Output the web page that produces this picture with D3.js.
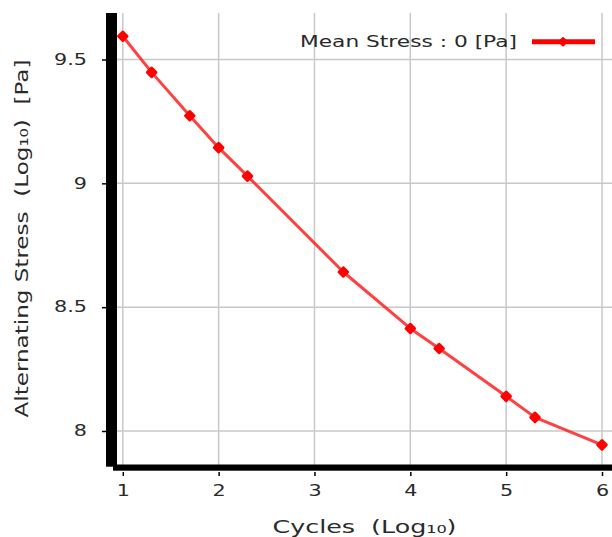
<!DOCTYPE html>
<html>
<head>
<meta charset="utf-8">
<script src="https://cdn.jsdelivr.net/npm/d3@7"></script>
<style>
  body { margin: 0; background: #fff; }
  text { font-family: "DejaVu Sans", sans-serif; fill: #2a2a2a; }
</style>
</head>
<body>
<div class="chart"></div>
<script>
var width = 612,
  height = 537;

// data (log10 cycles vs log10 alternating stress)
var cycles = [1, 1.301, 1.699, 2, 2.301, 3.301, 4, 4.301, 5, 5.301, 6];
var stress = [9.594, 9.448, 9.273, 9.144, 9.029, 8.642, 8.414, 8.333, 8.140, 8.055, 7.944];
var xTicks = [1, 2, 3, 4, 5, 6];
var yTicks = [8, 8.5, 9, 9.5];
var seriesName = 'Mean Stress : 0 [Pa]';

var data = cycles.map(function(c, i) { return {x: c, y: stress[i]}; });

var svg = d3.select('.chart')
  .append('svg')
  .attr('width', width)
  .attr('height', height);

// the source font is drawn wide, so stretch text horizontally
function widen(sel, factor) {
  sel.each(function() {
    var w = this.getComputedTextLength();
    d3.select(this)
      .attr('textLength', w * factor)
      .attr('lengthAdjust', 'spacingAndGlyphs');
  });
}

//SCALES
var xScale = d3.scaleLinear()
  .domain([1, 6])
  .range([122.8, 602]);

var yScale = d3.scaleLinear()
  .domain([8, 9.5])
  .range([431, 59.5]);

var plotLeft = 117, plotRight = width, plotTop = 13, plotBottom = 465;

//GRID
svg.append('g').attr('class', 'grid')
  .selectAll('line.gx')
  .data(xTicks)
  .enter()
  .append('line')
  .attr('x1', function(d) { return xScale(d); })
  .attr('x2', function(d) { return xScale(d); })
  .attr('y1', plotTop)
  .attr('y2', plotBottom)
  .attr('stroke', '#c8c8c8')
  .attr('stroke-width', 1.5);

svg.append('g').attr('class', 'grid')
  .selectAll('line.gy')
  .data(yTicks)
  .enter()
  .append('line')
  .attr('x1', plotLeft)
  .attr('x2', plotRight)
  .attr('y1', function(d) { return yScale(d); })
  .attr('y2', function(d) { return yScale(d); })
  .attr('stroke', '#c8c8c8')
  .attr('stroke-width', 1.5);

//AXES
var xAxis = d3.axisBottom(xScale)
  .tickValues(xTicks)
  .tickFormat(d3.format('d'))
  .tickSize(4)
  .tickPadding(9);

var yAxis = d3.axisLeft(yScale)
  .tickValues(yTicks)
  .tickFormat(function(d) { return d3.format('')(d); })
  .tickSize(4)
  .tickPadding(15);

var xAxisG = svg.append('g')
  .attr('class', 'xAxis')
  .attr('transform', 'translate(0,472)')
  .call(xAxis);

var yAxisG = svg.append('g')
  .attr('class', 'yAxis')
  .attr('transform', 'translate(106,0)')
  .call(yAxis);

[xAxisG, yAxisG].forEach(function(g) {
  g.select('.domain').remove();
  g.selectAll('.tick line').attr('stroke', '#000').attr('stroke-width', 1.5);
  g.selectAll('.tick text')
    .style('font-family', '"DejaVu Sans", sans-serif')
    .style('font-size', '15px')
    .attr('fill', '#2a2a2a')
    .call(widen, 1.38);
});

// heavy black axis bars
svg.append('rect')
  .attr('x', 106).attr('y', plotTop)
  .attr('width', 11).attr('height', 466.7 - plotTop)
  .attr('fill', '#000');
svg.append('rect')
  .attr('x', 113).attr('y', 464.5)
  .attr('width', width - 113).attr('height', 6.2)
  .attr('fill', '#000');

//LINE
var line = d3.line()
  .x(function(d) { return xScale(d.x); })
  .y(function(d) { return yScale(d.y); });

svg.append('path')
  .datum(data)
  .attr('d', line)
  .attr('fill', 'none')
  .attr('stroke', '#ff2020')
  .attr('stroke-opacity', 0.85)
  .attr('stroke-width', 3)
  .attr('stroke-linejoin', 'round');

//MARKERS
var marker = d3.symbol().type(d3.symbolSquare).size(36);

svg.selectAll('.marker')
  .data(data)
  .enter()
  .append('path')
  .attr('class', 'marker')
  .attr('d', marker)
  .attr('transform', function(d) { return 'translate(' + xScale(d.x) + ',' + yScale(d.y) + ') rotate(45)'; })
  .attr('fill', '#ff0000')
  .attr('stroke', '#ff0000')
  .attr('stroke-width', 3)
  .attr('stroke-linejoin', 'round');

//LEGEND
var legend = svg.append('g').attr('class', 'legend');
legend.append('text')
  .attr('x', 517)
  .attr('y', 46.5)
  .attr('text-anchor', 'end')
  .style('font-size', '15px')
  .attr('textLength', 217)
  .attr('lengthAdjust', 'spacingAndGlyphs')
  .text(seriesName);
legend.append('line')
  .attr('x1', 532).attr('x2', 595)
  .attr('y1', 41.7).attr('y2', 41.7)
  .attr('stroke', '#ff0000')
  .attr('stroke-width', 5);
legend.append('path')
  .attr('d', d3.symbol().type(d3.symbolSquare).size(28))
  .attr('transform', 'translate(563,41.7) rotate(45)')
  .attr('fill', '#ff0000')
  .attr('stroke', '#ff0000')
  .attr('stroke-width', 2)
  .attr('stroke-linejoin', 'round');

//TITLES
svg.append('text')
  .attr('x', 364.5)
  .attr('y', 533)
  .attr('text-anchor', 'middle')
  .style('font-size', '18px')
  .style('white-space', 'pre')
  .attr('textLength', 184)
  .attr('lengthAdjust', 'spacingAndGlyphs')
  .text('Cycles  (Log\u2081\u2080)');

svg.append('text')
  .attr('transform', 'translate(28,238.5) rotate(-90)')
  .attr('text-anchor', 'middle')
  .style('font-size', '18px')
  .style('white-space', 'pre')
  .attr('textLength', 358)
  .attr('lengthAdjust', 'spacingAndGlyphs')
  .text('Alternating Stress  (Log\u2081\u2080)  [Pa]');
</script>
</body>
</html>
